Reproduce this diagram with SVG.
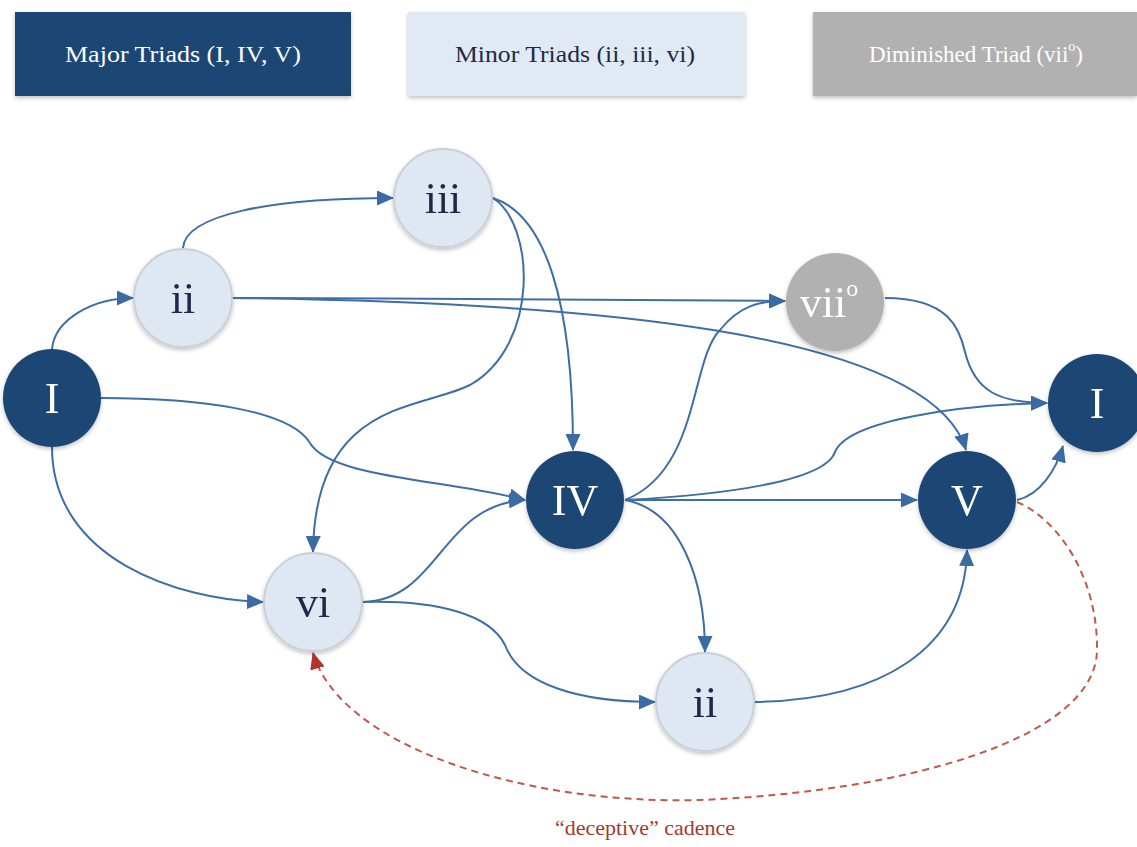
<svg xmlns="http://www.w3.org/2000/svg" width="1137" height="847" viewBox="0 0 1137 847">
<defs>
<style>
.legend-text{font-family:"Liberation Serif","DejaVu Serif",serif;font-size:23px;text-anchor:middle;dominant-baseline:central}
.lbl{font-family:"Liberation Serif","DejaVu Serif",serif;font-size:44px;text-anchor:middle;dominant-baseline:central}
.major{fill:#1a4775}
.minor{fill:#dfe7f2;stroke:#c9d0d9;stroke-width:2}
.dim{fill:#b1b1b1}
.w{fill:#ffffff}
.d{fill:#1d2b48}
.edge{fill:none;stroke:#3f6ea6;stroke-width:2;marker-end:url(#ah)}
.dash{fill:none;stroke:#c0594c;stroke-width:2;stroke-dasharray:7 5;marker-end:url(#ahr)}
</style>
<marker id="ah" markerWidth="17" markerHeight="15" refX="16" refY="7.5" orient="auto" markerUnits="userSpaceOnUse">
<path d="M0,0 L17,7.5 L0,15 z" fill="#3a6ba5"/>
</marker>
<marker id="ahr" markerWidth="17" markerHeight="15" refX="16" refY="7.5" orient="auto" markerUnits="userSpaceOnUse">
<path d="M0,0 L17,7.5 L0,15 z" fill="#b0352c"/>
</marker>
<filter id="sh" x="-20%" y="-20%" width="140%" height="150%">
<feDropShadow dx="0" dy="2" stdDeviation="2" flood-color="#000" flood-opacity="0.25"/>
</filter>
</defs>
<rect width="1137" height="847" fill="#ffffff"/>

<g id="legend">
<g id="legend-major">
<rect x="15" y="12" width="336" height="84" class="major" filter="url(#sh)"/>
<text x="183" y="54" class="legend-text w" textLength="236" lengthAdjust="spacingAndGlyphs">Major Triads (I, IV, V)</text>
</g>
<g id="legend-minor">
<rect x="408" y="12" width="337" height="84" fill="#e1e9f4" filter="url(#sh)"/>
<text x="575" y="54" class="legend-text d" textLength="240" lengthAdjust="spacingAndGlyphs">Minor Triads (ii, iii, vi)</text>
</g>
<g id="legend-dim">
<rect x="813" y="12" width="324" height="84" class="dim" filter="url(#sh)"/>
<text x="976" y="54" class="legend-text w">Diminished Triad (vii<tspan font-size="14" dy="-8">o</tspan><tspan dy="8">)</tspan></text>
</g>
</g>

<g id="connectors">
<path class="edge" d="M52,349 C55,318 95,298 133,298"/>
<path class="edge" d="M183,248 C185,215 270,198 393,198"/>
<path class="edge" d="M233,298 C420,298 620,300 785,301"/>
<path class="edge" d="M233,298 C580,302 930,330 966,450"/>
<path class="edge" d="M493,198 C545,215 573,300 573,450"/>
<path class="edge" d="M493,198 C535,225 540,345 470,385 C420,410 315,400 313,552"/>
<path class="edge" d="M101,398 C200,398 290,410 310,443 C330,478 450,480 525,500"/>
<path class="edge" d="M52,447 C52,560 180,600 263,602"/>
<path class="edge" d="M363,602 C440,600 440,505 525,500"/>
<path class="edge" d="M363,602 C440,600 490,615 505,645 C520,685 580,702 655,702"/>
<path class="edge" d="M625,500 C700,470 690,360 720,330 C740,305 760,301 785,301"/>
<path class="edge" d="M625,500 C720,495 825,482 835,452 C848,420 960,405 1047,403"/>
<path class="edge" d="M625,500 L917,500"/>
<path class="edge" d="M625,500 C680,510 705,580 705,652"/>
<path class="edge" d="M755,702 C880,700 965,650 967,550"/>
<path class="edge" d="M885,298 C950,298 960,330 965,352 C975,392 1000,403 1047,403"/>
<path class="edge" d="M1017,500 C1040,495 1056,470 1063,446"/>
<path class="dash" d="M1017,502 C1060,520 1098,580 1097,650 C1096,740 900,792 700,800 C520,805 340,745 313,653"/>
</g>

<g id="node-I-left" filter="url(#sh)">
<circle cx="52" cy="398" r="49" class="major"/>
<text x="52" y="398" class="lbl w">I</text>
</g>
<g id="node-ii-top" filter="url(#sh)">
<circle cx="183" cy="298" r="49" class="minor"/>
<text x="183" y="298" class="lbl d">ii</text>
</g>
<g id="node-iii" filter="url(#sh)">
<circle cx="443" cy="198" r="49" class="minor"/>
<text x="443" y="198" class="lbl d">iii</text>
</g>
<g id="node-vii" filter="url(#sh)">
<circle cx="835" cy="302" r="49" class="dim"/>
<text x="829" y="302" class="lbl w">vii<tspan font-size="24" dy="-14">o</tspan></text>
</g>
<g id="node-I-right" filter="url(#sh)">
<circle cx="1097" cy="403" r="49" class="major"/>
<text x="1097" y="403" class="lbl w">I</text>
</g>
<g id="node-IV" filter="url(#sh)">
<circle cx="575" cy="500" r="49" class="major"/>
<text x="575" y="500" class="lbl w">IV</text>
</g>
<g id="node-V" filter="url(#sh)">
<circle cx="967" cy="500" r="49" class="major"/>
<text x="967" y="500" class="lbl w">V</text>
</g>
<g id="node-vi" filter="url(#sh)">
<circle cx="313" cy="602" r="49" class="minor"/>
<text x="313" y="602" class="lbl d">vi</text>
</g>
<g id="node-ii-bottom" filter="url(#sh)">
<circle cx="705" cy="702" r="49" class="minor"/>
<text x="705" y="702" class="lbl d">ii</text>
</g>

<g id="label-deceptive">
<text x="645" y="835" font-family="'Liberation Serif','DejaVu Serif',serif" font-size="22" fill="#a8372d" text-anchor="middle">“deceptive” cadence</text>
</g>
</svg>
